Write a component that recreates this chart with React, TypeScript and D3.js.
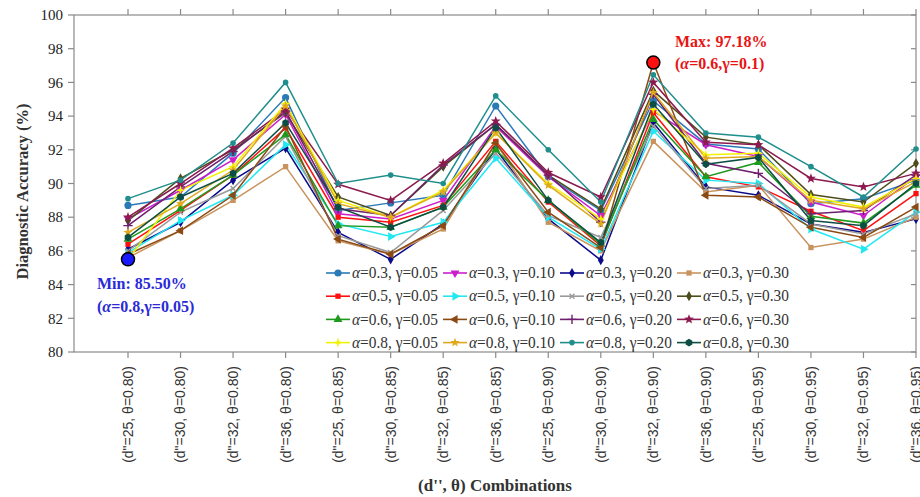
import React from 'react';
import * as d3 from 'd3';

// (d", θ) combinations along the x axis
const dValues = ['25', '30', '32', '36'];
const thetaValues = ['0.80', '0.85', '0.90', '0.95'];
const categories: string[] = thetaValues.flatMap((t) => dValues.map((d) => `(d"=${d}, θ=${t})`));

const yTicks = [80, 82, 84, 86, 88, 90, 92, 94, 96, 98, 100];

// Diagnostic accuracy (%) per (α, γ) setting
const a03g005 = [88.7, 89.2, 91.8, 95.1, 88.4, 88.85, 89.3, 94.6, 90.4, 88.4, 94.9, 92.35, 92.05, 88.8, 89.1, 90.2];
const a03g010 = [87.9, 89.6, 91.4, 94.1, 88.2, 87.9, 89.0, 93.4, 90.4, 88.1, 94.3, 92.3, 91.6, 88.9, 88.1, 90.4];
const a03g020 = [86.1, 87.7, 90.2, 92.1, 87.1, 85.5, 87.6, 92.05, 87.9, 85.45, 93.6, 89.8, 89.3, 87.6, 87.1, 87.9];
const a03g030 = [85.6, 87.2, 89.0, 91.0, 86.6, 85.8, 87.3, 92.4, 87.7, 86.0, 92.5, 89.5, 89.9, 86.2, 86.7, 88.0];
const a05g005 = [86.4, 88.4, 90.5, 93.3, 88.0, 87.7, 88.7, 92.5, 88.9, 86.3, 94.2, 90.4, 89.8, 88.35, 87.2, 89.4];
const a05g010 = [85.9, 87.8, 89.3, 92.3, 87.6, 86.85, 87.7, 91.5, 88.0, 86.1, 93.1, 90.2, 90.0, 87.3, 86.1, 88.3];
const a05g020 = [86.0, 88.3, 89.7, 92.8, 86.9, 85.9, 88.4, 91.8, 88.1, 86.8, 93.4, 89.7, 89.9, 87.6, 87.0, 88.2];
const a05g030 = [87.8, 90.3, 92.0, 94.2, 89.2, 88.1, 91.0, 93.5, 90.5, 88.5, 95.5, 92.75, 92.3, 89.35, 88.9, 91.2];
const a06g005 = [86.7, 88.5, 90.5, 92.9, 87.5, 87.4, 88.6, 92.0, 89.0, 86.4, 93.8, 90.4, 91.25, 88.05, 87.65, 89.9];
const a06g010 = [85.8, 87.2, 89.3, 93.4, 86.7, 85.8, 87.5, 92.4, 88.3, 86.2, 97.18, 89.3, 89.2, 87.4, 86.8, 88.6];
const a06g020 = [87.5, 89.8, 91.9, 94.3, 88.5, 88.1, 91.1, 93.5, 90.5, 87.7, 95.3, 91.2, 90.6, 88.2, 88.4, 90.5];
const a06g030 = [88.0, 90.0, 92.1, 94.4, 89.95, 89.0, 91.2, 93.7, 90.65, 89.2, 96.0, 92.45, 92.3, 90.3, 89.8, 90.6];
const a08g005 = [85.5, 89.6, 91.0, 94.75, 89.0, 88.0, 89.6, 93.0, 90.0, 87.9, 94.4, 91.7, 91.8, 89.2, 88.6, 90.3];
const a08g010 = [87.1, 88.8, 90.8, 94.6, 88.8, 88.0, 89.5, 93.0, 89.9, 87.6, 95.4, 91.5, 91.6, 89.0, 88.5, 90.1];
const a08g020 = [89.1, 90.2, 92.4, 96.0, 90.0, 90.5, 90.0, 95.2, 92.0, 88.9, 96.45, 93.0, 92.75, 91.0, 89.2, 92.05];
const a08g030 = [86.8, 89.2, 90.6, 93.6, 88.6, 87.4, 88.6, 93.3, 89.0, 86.5, 94.7, 91.15, 91.55, 87.8, 87.5, 90.0];

const seriesAlpha = ['0.3', '0.3', '0.3', '0.3', '0.5', '0.5', '0.5', '0.5', '0.6', '0.6', '0.6', '0.6', '0.8', '0.8', '0.8', '0.8'];
const seriesGamma = ['0.05', '0.10', '0.20', '0.30', '0.05', '0.10', '0.20', '0.30', '0.05', '0.10', '0.20', '0.30', '0.05', '0.10', '0.20', '0.30'];
const seriesValues = [
  a03g005, a03g010, a03g020, a03g030,
  a05g005, a05g010, a05g020, a05g030,
  a06g005, a06g010, a06g020, a06g030,
  a08g005, a08g010, a08g020, a08g030,
];

// Extremes called out on the chart
const minValue = 85.5;
const minCategory = 0;
const maxValue = 97.18;
const maxCategory = 10;

// Styling per series
const seriesColors = [
  '#2a7ab8', '#cc1fcc', '#0a0a8a', '#c8935e',
  '#ff1010', '#22e8f2', '#9a9a9a', '#4d4d1c',
  '#1e9a1e', '#8b4a14', '#6e1f6e', '#8c1a4e',
  '#f2f200', '#e0a81c', '#1f8e8c', '#0d4e44',
];
type MarkerKind = 'circle' | 'triDown' | 'diamond' | 'square' | 'triRight' | 'x' | 'triUp' | 'triLeft' | 'plus' | 'star6' | 'star4' | 'star5' | 'dot' | 'hex';
const seriesMarkers: MarkerKind[] = [
  'circle', 'triDown', 'diamond', 'square',
  'square', 'triRight', 'x', 'diamond',
  'triUp', 'triLeft', 'plus', 'star6',
  'star4', 'star5', 'dot', 'hex',
];

const W = 920;
const H = 497;
const plotLeft = 74;
const plotRight = 916;
const plotTop = 15;
const plotBottom = 352;
const serif = '"Liberation Serif", "DejaVu Serif", serif';
const sans = '"Liberation Sans", Arial, sans-serif';
const axisColor = '#8a8a8a';

const x = d3.scalePoint<string>().domain(categories).range([128, plotRight]).padding(0);
const y = d3.scaleLinear().domain([80, 100]).range([plotBottom, plotTop]);

function starPath(points: number, outer: number, inner: number, rot = -Math.PI / 2): string {
  const pts: [number, number][] = [];
  for (let i = 0; i < points * 2; i++) {
    const r = i % 2 === 0 ? outer : inner;
    const a = rot + (i * Math.PI) / points;
    pts.push([Math.cos(a) * r, Math.sin(a) * r]);
  }
  return 'M' + pts.map((p) => p.join(',')).join('L') + 'Z';
}

function Marker({ kind, color, cx, cy }: { kind: MarkerKind; color: string; cx: number; cy: number }) {
  const t = `translate(${cx},${cy})`;
  const tri = d3.symbol(d3.symbolTriangle, 34)() as string;
  switch (kind) {
    case 'circle':
      return <circle cx={cx} cy={cy} r={3.6} fill={color} />;
    case 'dot':
      return <circle cx={cx} cy={cy} r={2.8} fill={color} />;
    case 'square':
      return <path transform={t} d={d3.symbol(d3.symbolSquare, 28)() as string} fill={color} />;
    case 'diamond':
      return <path transform={t} d={d3.symbol(d3.symbolDiamond, 30)() as string} fill={color} />;
    case 'triUp':
      return <path transform={t} d={tri} fill={color} />;
    case 'triDown':
      return <path transform={`${t} rotate(180)`} d={tri} fill={color} />;
    case 'triRight':
      return <path transform={`${t} rotate(90)`} d={tri} fill={color} />;
    case 'triLeft':
      return <path transform={`${t} rotate(-90)`} d={tri} fill={color} />;
    case 'x':
      return <path transform={t} d={d3.symbol(d3.symbolX, 18)() as string} fill="none" stroke={color} strokeWidth={1.4} />;
    case 'plus':
      return <path transform={t} d={d3.symbol(d3.symbolPlus, 30)() as string} fill="none" stroke={color} strokeWidth={1.4} />;
    case 'star6':
      return <path transform={t} d={starPath(5, 5.2, 2.2)} fill={color} />;
    case 'star5':
      return <path transform={t} d={starPath(5, 4.8, 2.0)} fill={color} />;
    case 'star4':
      return <path transform={t} d={starPath(4, 5, 1.6)} fill={color} />;
    case 'hex':
      return <path transform={t} d={starPath(6, 3.8, 3.3)} fill={color} />;
  }
  return null;
}

function GreekLabel({ alpha, gamma }: { alpha: string; gamma: string }) {
  return (
    <>
      <tspan fontStyle="italic">α</tspan>
      {`=${alpha}, `}
      <tspan>γ</tspan>
      {`=${gamma}`}
    </>
  );
}

export default function App() {
  const line = d3
    .line<number>()
    .x((_, i) => x(categories[i]) as number)
    .y((v) => y(v));

  const legendX0 = 326;
  const legendColStep = 117;
  const legendY0 = 273;
  const legendRowStep = 23.2;

  return (
    <svg
      width={W}
      height={H}
      viewBox={`0 0 ${W} ${H}`}
      style={{ position: 'absolute', left: 0, top: 0, background: '#fff' }}
    >
      <rect x={0} y={0} width={W} height={H} fill="#fff" />

      {/* frame */}
      <rect x={plotLeft} y={plotTop} width={plotRight - plotLeft} height={plotBottom - plotTop} fill="none" stroke={axisColor} strokeWidth={1.2} />

      {/* y ticks and labels */}
      {yTicks.map((t) => (
        <g key={`yt${t}`}>
          <line x1={plotLeft - 6} x2={plotLeft} y1={y(t)} y2={y(t)} stroke={axisColor} strokeWidth={1.2} />
          <line x1={plotRight - 5} x2={plotRight} y1={y(t)} y2={y(t)} stroke={axisColor} strokeWidth={1.2} />
          <text x={plotLeft - 11} y={y(t)} dy="0.35em" textAnchor="end" fontFamily={serif} fontSize={15} fill="#222">
            {t}
          </text>
        </g>
      ))}

      {/* x ticks and labels */}
      {categories.map((c) => {
        const cx = x(c) as number;
        return (
          <g key={`xt${c}`}>
            <line x1={cx} x2={cx} y1={plotTop - 6} y2={plotTop} stroke={axisColor} strokeWidth={1.2} />
            <line x1={cx} x2={cx} y1={plotBottom} y2={plotBottom + 6} stroke={axisColor} strokeWidth={1.2} />
            <text
              transform={`translate(${cx},${plotBottom + 14}) rotate(-90)`}
              dy="0.35em"
              textAnchor="end"
              fontFamily={sans}
              fontSize={14}
              fill="#333"
            >
              {c}
            </text>
          </g>
        );
      })}

      {/* axis titles */}
      <text
        transform={`translate(22,${(plotTop + plotBottom) / 2 + 8}) rotate(-90)`}
        textAnchor="middle"
        fontFamily={serif}
        fontWeight="bold"
        fontSize={16.5}
        fill="#333"
        dy="0.35em"
      >
        Diagnostic Accuracy (%)
      </text>
      <text x={495} y={491} textAnchor="middle" fontFamily={serif} fontWeight="bold" fontSize={17} fill="#333">
        (d'', θ) Combinations
      </text>

      {/* series lines */}
      {seriesValues.map((vals, s) => (
        <path key={`l${s}`} d={line(vals) as string} fill="none" stroke={seriesColors[s]} strokeWidth={1.5} />
      ))}
      {/* series markers */}
      {seriesValues.map((vals, s) => (
        <g key={`m${s}`}>
          {vals.map((v, i) => (
            <Marker key={i} kind={seriesMarkers[s]} color={seriesColors[s]} cx={x(categories[i]) as number} cy={y(v)} />
          ))}
        </g>
      ))}

      {/* legend */}
      <g>
        {seriesValues.map((_, s) => {
          const col = s % 4;
          const row = Math.floor(s / 4);
          const lx = legendX0 + col * legendColStep;
          const ly = legendY0 + row * legendRowStep;
          return (
            <g key={`lg${s}`}>
              <line x1={lx} x2={lx + 24} y1={ly} y2={ly} stroke={seriesColors[s]} strokeWidth={1.6} />
              <Marker kind={seriesMarkers[s]} color={seriesColors[s]} cx={lx + 12} cy={ly} />
              <text
                x={lx + 26}
                y={ly}
                dy="0.33em"
                fontFamily={serif}
                fontSize={16}
                fill="#333"
                textLength={86}
                lengthAdjust="spacingAndGlyphs"
              >
                <GreekLabel alpha={seriesAlpha[s]} gamma={seriesGamma[s]} />
              </text>
            </g>
          );
        })}
      </g>

      {/* minimum call-out */}
      <circle cx={x(categories[minCategory]) as number} cy={y(minValue)} r={6.5} fill="#1a1aff" stroke="#000" strokeWidth={1.5} />
      <text x={97} y={289} fontFamily={serif} fontWeight="bold" fontSize={16} fill="#2a2ad8">
        {`Min: ${minValue.toFixed(2)}%`}
      </text>
      <text x={97} y={312} fontFamily={serif} fontWeight="bold" fontSize={16} fill="#2a2ad8">
        (<tspan fontStyle="italic">α</tspan>=0.8,γ=0.05)
      </text>

      {/* maximum call-out */}
      <circle cx={x(categories[maxCategory]) as number} cy={y(maxValue)} r={6.5} fill="#ff1010" stroke="#000" strokeWidth={1.5} />
      <text x={675} y={47} fontFamily={serif} fontWeight="bold" fontSize={16} fill="#e81414">
        {`Max: ${maxValue.toFixed(2)}%`}
      </text>
      <text x={675} y={69} fontFamily={serif} fontWeight="bold" fontSize={16} fill="#e81414">
        (<tspan fontStyle="italic">α</tspan>=0.6,γ=0.1)
      </text>
    </svg>
  );
}
